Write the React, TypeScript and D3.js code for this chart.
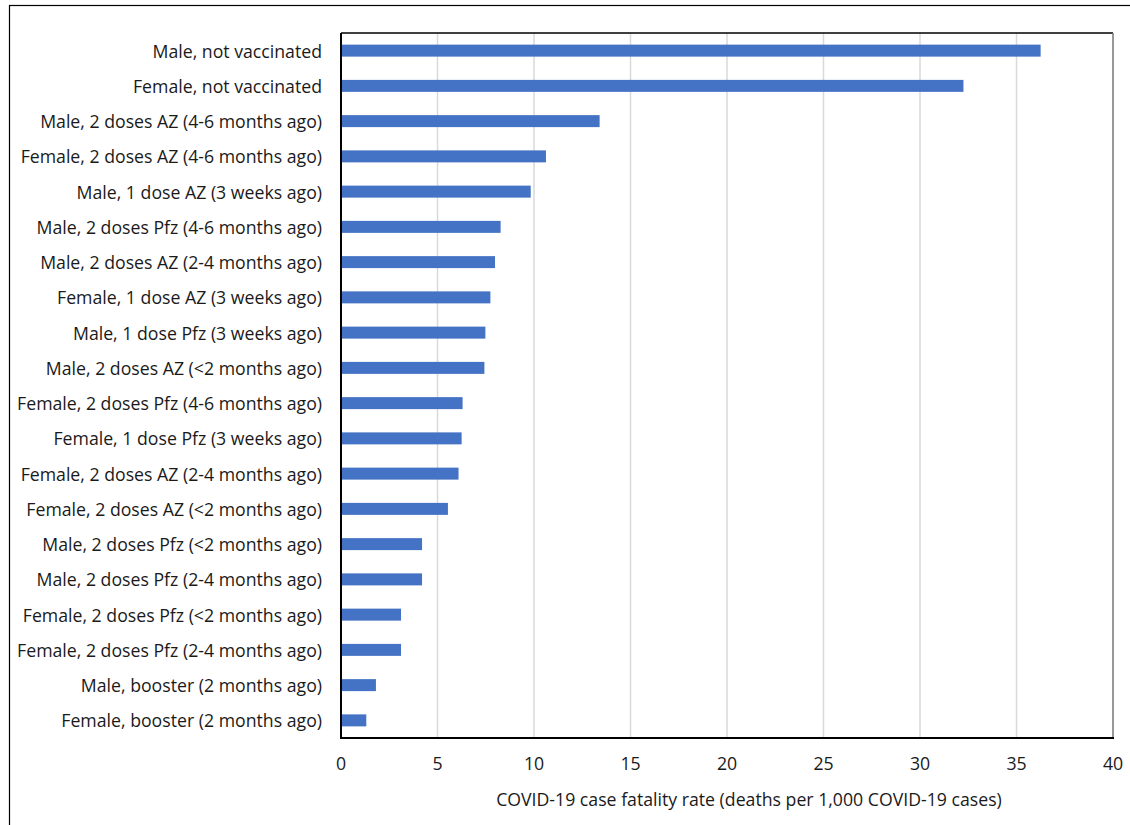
import React from "react";
import * as d3 from "d3";

const categories: string[] = [
  "Male, not vaccinated",
  "Female, not vaccinated",
  "Male, 2 doses AZ (4-6 months ago)",
  "Female, 2 doses AZ (4-6 months ago)",
  "Male, 1 dose AZ (3 weeks ago)",
  "Male, 2 doses Pfz (4-6 months ago)",
  "Male, 2 doses AZ (2-4 months ago)",
  "Female, 1 dose AZ (3 weeks ago)",
  "Male, 1 dose Pfz (3 weeks ago)",
  "Male, 2 doses AZ (<2 months ago)",
  "Female, 2 doses Pfz (4-6 months ago)",
  "Female, 1 dose Pfz (3 weeks ago)",
  "Female, 2 doses AZ (2-4 months ago)",
  "Female, 2 doses AZ (<2 months ago)",
  "Male, 2 doses Pfz (<2 months ago)",
  "Male, 2 doses Pfz (2-4 months ago)",
  "Female, 2 doses Pfz (<2 months ago)",
  "Female, 2 doses Pfz (2-4 months ago)",
  "Male, booster (2 months ago)",
  "Female, booster (2 months ago)",
];

const values: number[] = [
  36.25, 32.25, 13.4, 10.62, 9.83, 8.27, 7.98, 7.74, 7.48, 7.43, 6.3, 6.25,
  6.09, 5.54, 4.2, 4.2, 3.11, 3.11, 1.81, 1.31,
];

const xTicks: number[] = [0, 5, 10, 15, 20, 25, 30, 35, 40];
const xTitle = "COVID-19 case fatality rate (deaths per 1,000 COVID-19 cases)";

const W = 1130;
const H = 825;
const plot = { left: 341, right: 1113, top: 33, bottom: 738 };
const FONT = "'Open Sans', 'Noto Sans', sans-serif";
const FS = 17.7;

export default function App() {
  const x = d3.scaleLinear().domain([0, 40]).range([plot.left, plot.right]);
  const y = d3
    .scaleBand<string>()
    .domain(categories)
    .range([plot.top, plot.bottom])
    .paddingInner(0.66)
    .paddingOuter(0.33);

  return (
    <svg
      width={W}
      height={H}
      style={{ position: "absolute", left: 0, top: 0, background: "#fff" }}
      fontFamily={FONT}
    >
      <rect x={0} y={0} width={W} height={H} fill="#fff" />
      <rect x={9.5} y={5.5} width={W + 10} height={H + 10} fill="none" stroke="#000" strokeWidth={1.2} />
      {xTicks.slice(1).map((t) => (
        <line
          key={"g" + t}
          x1={x(t)}
          x2={x(t)}
          y1={plot.top}
          y2={plot.bottom}
          stroke="#d9d9d9"
          strokeWidth={1.5}
        />
      ))}
      {categories.map((c, i) => (
        <rect
          key={c}
          x={x(0)}
          y={y(c)!}
          width={x(values[i]) - x(0)}
          height={y.bandwidth()}
          fill="#4472C4"
        />
      ))}
      <line x1={plot.left} x2={plot.right} y1={plot.top} y2={plot.top} stroke="#000" strokeWidth={1.3} />
      <line x1={plot.right} x2={plot.right} y1={plot.top} y2={plot.bottom} stroke="#7f7f7f" strokeWidth={1.5} />
      <line x1={plot.left} x2={plot.left} y1={plot.top} y2={plot.bottom + 1} stroke="#000" strokeWidth={2} />
      <line x1={plot.left - 1} x2={plot.right + 1} y1={plot.bottom} y2={plot.bottom} stroke="#000" strokeWidth={2} />
      {categories.map((c) => (
        <text
          key={"l" + c}
          x={plot.left - 19}
          y={y(c)! + y.bandwidth() / 2}
          textAnchor="end"
          dominantBaseline="central"
          fontSize={FS}
          fill="#1a1a1a"
        >
          {c}
        </text>
      ))}
      {xTicks.map((t) => (
        <text
          key={"t" + t}
          x={x(t)}
          y={763}
          textAnchor="middle"
          dominantBaseline="central"
          fontSize={FS}
          fill="#1a1a1a"
        >
          {t}
        </text>
      ))}
      <text x={749} y={799} textAnchor="middle" dominantBaseline="central" fontSize={FS} fill="#1a1a1a">
        {xTitle}
      </text>
    </svg>
  );
}
